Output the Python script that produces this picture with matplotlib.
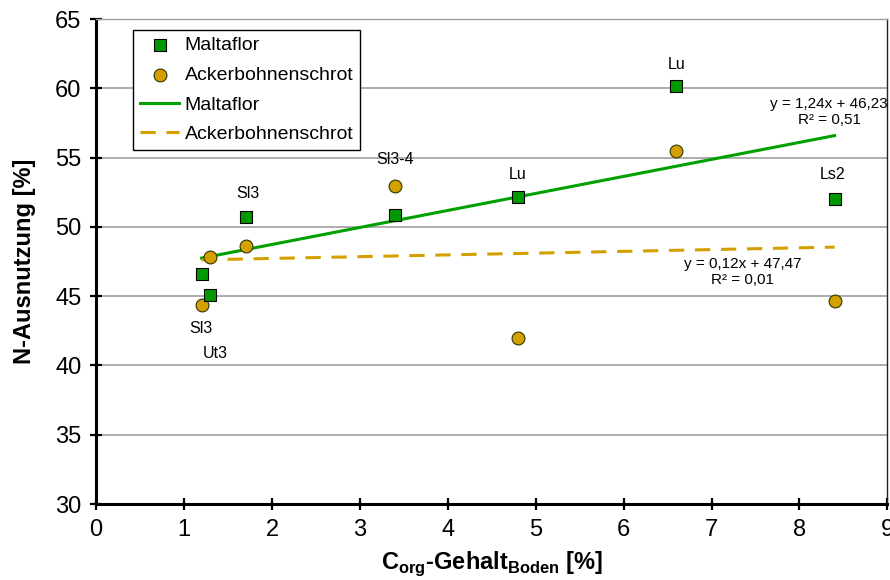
import numpy as np
import matplotlib
matplotlib.use("Agg")
import matplotlib.pyplot as plt

# C_org content of the soil [%]
corg = [1.2, 1.3, 1.7, 3.4, 4.8, 6.6, 8.4]
# N utilisation [%]
maltaflor = [46.6, 45.1, 50.7, 50.85, 52.15, 60.2, 52.0]
ackerbohne = [44.35, 47.8, 48.65, 52.95, 41.95, 55.45, 44.65]

# soil type labels (text, x, y in data units)
soil_labels = ["Sl3", "Sl3-4", "Lu", "Lu", "Ls2", "Sl3", "Ut3"]
soil_label_x = [1.73, 3.4, 4.79, 6.6, 8.38, 1.19, 1.35]
soil_label_y = [52.45, 54.85, 53.75, 61.7, 53.75, 42.7, 40.9]

eq_malta = "y = 1,24x + 46,23\nR² = 0,51"
eq_acker = "y = 0,12x + 47,47\nR² = 0,01"

x_ticks = list(range(0, 10))
y_ticks = list(range(30, 70, 5))

plt.rcParams['font.family'] = ['Liberation Sans', 'DejaVu Sans']
plt.rcParams['mathtext.fontset'] = 'custom'
plt.rcParams['mathtext.rm'] = 'Liberation Sans'
plt.rcParams['mathtext.bf'] = 'Liberation Sans:bold'

green = '#009900'
gold = '#D4A000'

fig = plt.figure(figsize=(8.9, 5.8), dpi=100)
ax = fig.add_axes([0.108, 0.131, 0.889, 0.836])

# grid lines
for yv in y_ticks[1:-1]:
    ax.axhline(yv, color='#a0a0a0', lw=1.2, zorder=0)

ax.scatter(corg, maltaflor, marker='s', s=80, color=green, edgecolor='black',
           linewidths=0.8, zorder=4, label='Maltaflor')
ax.scatter(corg, ackerbohne, marker='o', s=85, color=gold, edgecolor='#333300',
           linewidths=0.8, zorder=3, label='Ackerbohnenschrot')

# linear trend lines
xs = np.array([min(corg), max(corg)])
m1, b1 = np.polyfit(corg, maltaflor, 1)
m2, b2 = np.polyfit(corg, ackerbohne, 1)
ax.plot(xs, m1 * xs + b1, color='#00A000', lw=2.2, zorder=2, label='Maltaflor')
ax.plot(xs, m2 * xs + b2, color=gold, lw=2.2, ls=(0, (5, 3.5)), zorder=2,
        label='Ackerbohnenschrot')

for t, lx, ly in zip(soil_labels, soil_label_x, soil_label_y):
    ax.text(lx, ly, t, ha='center', va='center', fontsize=11.5)

ax.text(8.34, 58.3, eq_malta, ha='center', va='center', fontsize=11,
        linespacing=1.15)
ax.text(7.35, 46.75, eq_acker, ha='center', va='center', fontsize=11,
        linespacing=1.15)

ax.set_xlim(0, 9)
ax.set_ylim(30, 65)
ax.set_xticks(x_ticks)
ax.set_yticks(y_ticks)
ax.tick_params(direction='inout', length=9, width=1.6, labelsize=17, pad=6)

for side in ['left', 'bottom']:
    ax.spines[side].set_linewidth(2.2)
ax.spines['right'].set_linewidth(1.0)
ax.spines['right'].set_color('#222222')
ax.spines['top'].set_linewidth(1.0)
ax.spines['top'].set_color('#a0a0a0')

ax.set_ylabel('N-Ausnutzung [%]', fontsize=17, fontweight='bold', labelpad=14)
ax.set_xlabel(r'C$_{\mathbf{org}}$-Gehalt$_{\mathbf{Boden}}$ [%]', fontsize=17,
              fontweight='bold', labelpad=6)

leg = ax.legend(loc='upper left', bbox_to_anchor=(0.047, 0.978),
                frameon=True, fancybox=False, edgecolor='black', framealpha=1,
                borderpad=0.35, labelspacing=0.62, handlelength=2.0,
                handletextpad=0.3, borderaxespad=0.0,
                prop={'size': 14})
leg.get_frame().set_linewidth(1.0)

fig.savefig('out.png', dpi=100)
